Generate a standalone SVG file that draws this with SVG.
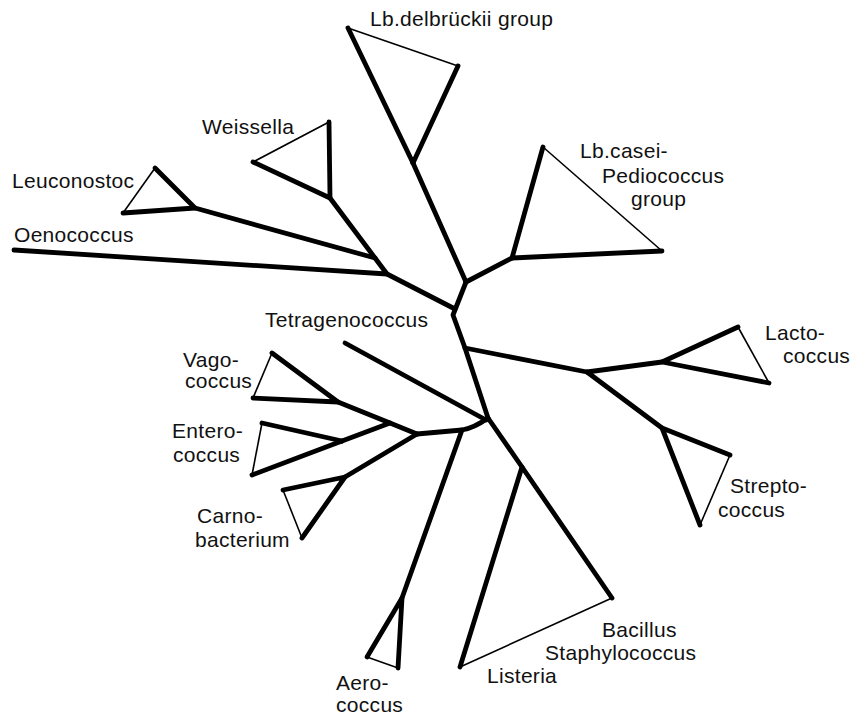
<svg xmlns="http://www.w3.org/2000/svg" width="852" height="716" viewBox="0 0 852 716">
<style>
.k{stroke:#000;stroke-width:4.8;fill:none;stroke-linecap:round;stroke-linejoin:round}
.t{stroke:#000;stroke-width:1.6;fill:none;stroke-linejoin:round}
text{font-family:"Liberation Sans",Arial,sans-serif;font-size:21px;letter-spacing:0.3px;fill:#111}
</style>
<rect width="852" height="716" fill="#fff"/>
<g id="connectors">
<polyline class="k" points="466,282 413,163"/>
<polyline class="k" points="466,282 512,258"/>
<polyline class="k" points="466,282 453,315 465,348 488,418"/>
<polyline class="k" points="455,309 387,274 14,250"/>
<polyline class="k" points="387,274 375,258 330,198"/>
<polyline class="k" points="375,258 195,208"/>
<polyline class="k" points="465,348 587,372 662,362"/>
<polyline class="k" points="587,372 662,428"/>
<path class="k" d="M488,418 Q474,428 462,430 L417,434"/>
<polyline class="k" points="486,420 345,343"/>
<polyline class="k" points="462,430 402,598"/>
<polyline class="k" points="417,434 390,423 338,402"/>
<polyline class="k" points="390,423 342,441"/>
<polyline class="k" points="417,434 345,477"/>
<polyline class="k" points="488,418 522,467"/>
</g>
<g id="lb-delbrueckii">
<polyline class="k" points="413,163 348,28"/>
<polyline class="k" points="413,163 458,66"/>
<line class="t" x1="348" y1="28" x2="458" y2="66"/>
<text x="370" y="26">Lb.delbrückii group</text>
</g>
<g id="lb-casei">
<polyline class="k" points="543,147 512,258 662,251"/>
<line class="t" x1="543" y1="147" x2="662" y2="251"/>
<text x="580" y="158">Lb.casei-</text>
<text x="602" y="183">Pediococcus</text>
<text x="631" y="206">group</text>
</g>
<g id="weissella">
<polyline class="k" points="253,162 330,198 329,122"/>
<line class="t" x1="253" y1="162" x2="329" y2="122"/>
<text x="202" y="134">Weissella</text>
</g>
<g id="leuconostoc">
<polyline class="k" points="155,168 195,208 123,213"/>
<line class="t" x1="155" y1="168" x2="123" y2="213"/>
<text x="12" y="188">Leuconostoc</text>
</g>
<g id="oenococcus">
<text x="14" y="242">Oenococcus</text>
</g>
<g id="tetragenococcus">
<text x="265" y="327">Tetragenococcus</text>
</g>
<g id="vagococcus">
<polyline class="k" points="272,353 338,402 253,398"/>
<line class="t" x1="272" y1="353" x2="253" y2="398"/>
<text x="183" y="367">Vago-</text>
<text x="185" y="388">coccus</text>
</g>
<g id="enterococcus">
<polyline class="k" points="262,423 342,441"/>
<polyline class="k" points="252,475 342,441"/>
<line class="t" x1="262" y1="423" x2="252" y2="475"/>
<text x="172" y="438">Entero-</text>
<text x="173" y="462">coccus</text>
</g>
<g id="carnobacterium">
<polyline class="k" points="283,490 345,477 302,538"/>
<line class="t" x1="283" y1="490" x2="302" y2="538"/>
<text x="197" y="523">Carno-</text>
<text x="195" y="547">bacterium</text>
</g>
<g id="aerococcus">
<polyline class="k" points="367,657 402,598 398,668"/>
<line class="t" x1="367" y1="657" x2="398" y2="668"/>
<text x="336" y="690">Aero-</text>
<text x="336" y="712">coccus</text>
</g>
<g id="bacillus-listeria">
<polyline class="k" points="460,667 522,467 612,598"/>
<line class="t" x1="460" y1="667" x2="612" y2="598"/>
<text x="602" y="637">Bacillus</text>
<text x="545" y="660">Staphylococcus</text>
<text x="487" y="683">Listeria</text>
</g>
<g id="lactococcus">
<polyline class="k" points="738,327 662,362 769,383"/>
<line class="t" x1="738" y1="327" x2="769" y2="383"/>
<text x="765" y="340">Lacto-</text>
<text x="783" y="363">coccus</text>
</g>
<g id="streptococcus">
<polyline class="k" points="730,455 662,428 700,525"/>
<line class="t" x1="730" y1="455" x2="700" y2="525"/>
<text x="730" y="493">Strepto-</text>
<text x="718" y="517">coccus</text>
</g>
</svg>
